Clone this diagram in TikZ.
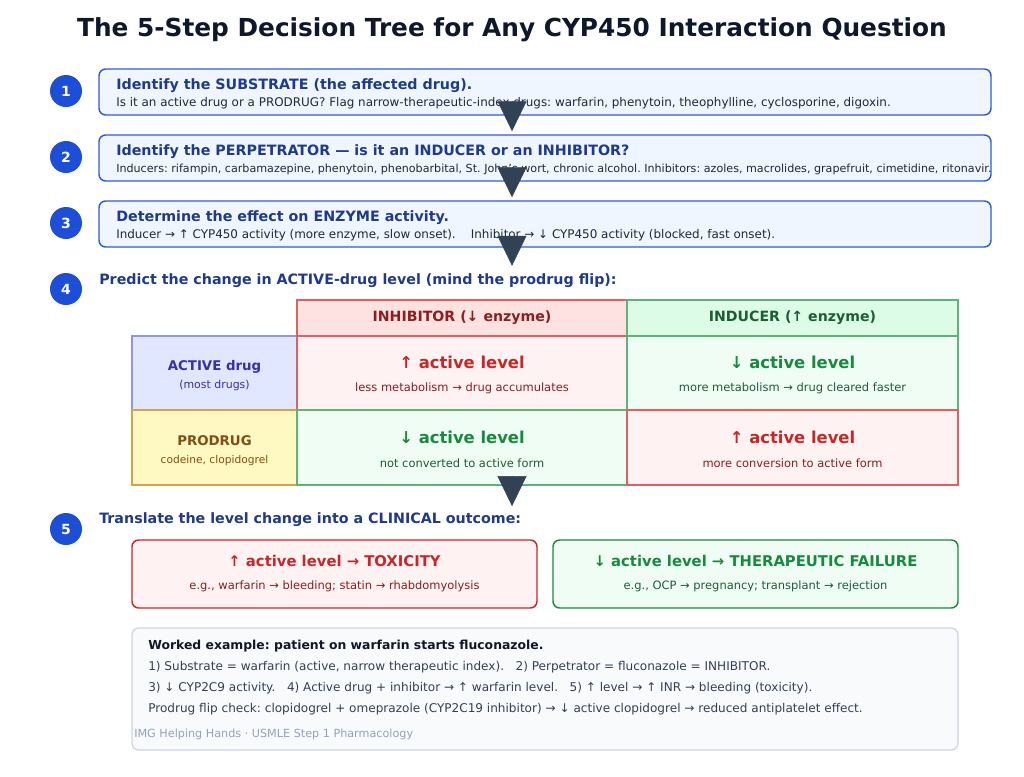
\documentclass[tikz,border=0pt]{standalone}
\usepackage{fontspec}
\setmainfont{DejaVu Sans}
\usepackage{tikz}
\usetikzlibrary{arrows.meta}
\usetikzlibrary{positioning}
\frenchspacing

\definecolor{titleink}{HTML}{0F172A}
\definecolor{numblue}{HTML}{1D4ED8}
\definecolor{stepedge}{HTML}{2F5BD6}
\definecolor{stepfill}{HTML}{EFF6FF}
\definecolor{headblue}{HTML}{1E3A8A}
\definecolor{subink}{HTML}{1F2937}
\definecolor{arrowink}{HTML}{334155}
\definecolor{redhdr}{HTML}{FEE2E2}
\definecolor{redcell}{HTML}{FEF2F2}
\definecolor{rededge}{HTML}{E06060}
\definecolor{redbig}{HTML}{C62828}
\definecolor{redtxt}{HTML}{8B1E1E}
\definecolor{greenhdr}{HTML}{DCFCE7}
\definecolor{greencell}{HTML}{F0FDF4}
\definecolor{greenedge}{HTML}{5CB47A}
\definecolor{greenbig}{HTML}{188A3E}
\definecolor{greentxt}{HTML}{1B5E36}
\definecolor{indfill}{HTML}{E0E7FF}
\definecolor{indedge}{HTML}{8F96E8}
\definecolor{indtxt}{HTML}{3730A3}
\definecolor{yelfill}{HTML}{FEF9C3}
\definecolor{yeledge}{HTML}{D4A24C}
\definecolor{yeltxt}{HTML}{854D0E}
\definecolor{workfill}{HTML}{F8FAFC}
\definecolor{workedge}{HTML}{CBD5E1}
\definecolor{worktxt}{HTML}{334155}
\definecolor{footink}{HTML}{94A3B8}

\begin{document}
\begin{tikzpicture}
  [
    x = 0.75pt, y = -0.75pt,
    num/.style = {circle, fill=numblue, text=white, minimum size=24pt,
                  inner sep=0pt, font=\fontsize{10.5}{12}\selectfont\bfseries},
    stepbox/.style = {draw=stepedge, fill=stepfill, line width=1.1pt,
                  rounded corners=5pt, minimum width=669pt, minimum height=34.5pt},
    head/.style = {anchor=west, inner sep=0pt, text=headblue,
                  font=\fontsize{10.7}{12}\selectfont\bfseries},
    sub/.style = {anchor=west, inner sep=0pt, text=subink,
                  font=\fontsize{8.95}{10}\selectfont},
    cell/.style = {draw, line width=0.8pt, inner sep=0pt},
    hdr/.style = {inner sep=0pt, font=\fontsize{10.6}{12}\selectfont\bfseries},
    big/.style = {inner sep=0pt, font=\fontsize{12.3}{14}\selectfont\bfseries},
    small/.style = {inner sep=0pt, font=\fontsize{8.6}{10}\selectfont},
    outbox/.style = {draw, line width=1.1pt, rounded corners=5pt,
                  minimum width=303.75pt, minimum height=51pt},
    flow/.style = {-{Triangle[length=22.5pt, width=21.75pt]}, draw=arrowink,
                  fill=arrowink},
  ]

  \useasboundingbox (0,0) rectangle (1024,776);

  \node[text=titleink, font=\fontsize{18.6}{22}\selectfont\bfseries] (title) at (512,30)
    {The 5-Step Decision Tree for Any CYP450 Interaction Question};

  \node[num] (n1) at (66,91) {1};
  \node[num] (n2) at (66,157) {2};
  \node[num] (n3) at (66,223) {3};
  \node[num] (n4) at (66,289) {4};
  \node[num] (n5) at (66,529) {5};

  \node[stepbox] (s1) at (545,92) {};
  \node[head] (s1h) at (116,86) {Identify the SUBSTRATE (the affected drug).};
  \node[sub] (s1t) at (116,103) {Is it an active drug or a PRODRUG? Flag narrow-therapeutic-index drugs: warfarin, phenytoin, theophylline, cyclosporine, digoxin.};

  \node[stepbox] (s2) at (545,158) {};
  \node[head] (s2h) at (116,152) {Identify the PERPETRATOR — is it an INDUCER or an INHIBITOR?};
  \node[sub, font=\fontsize{8.35}{10}\selectfont] (s2t) at (116,169) {Inducers: rifampin, carbamazepine, phenytoin, phenobarbital, St. John's wort, chronic alcohol. Inhibitors: azoles, macrolides, grapefruit, cimetidine, ritonavir.};

  \node[stepbox] (s3) at (545,224) {};
  \node[head] (s3h) at (116,218) {Determine the effect on ENZYME activity.};
  \node[sub] (s3t) at (116,235) {Inducer → ↑ CYP450 activity (more enzyme, slow onset).\ \ \ \ Inhibitor → ↓ CYP450 activity (blocked, fast onset).};

  \node[head] (h4) at (99,281) {Predict the change in ACTIVE-drug level (mind the prodrug flip):};

  \node[cell, draw=rededge, fill=redhdr, minimum width=247.5pt, minimum height=27pt] (inh) at (462,318) {};
  \node[hdr, text=redtxt] (inht) at (462,318) {INHIBITOR (↓ enzyme)};
  \node[cell, draw=greenedge, fill=greenhdr, minimum width=248.25pt, minimum height=27pt] (ind) at (792.5,318) {};
  \node[hdr, text=greentxt] (indt) at (792.5,318) {INDUCER (↑ enzyme)};

  \node[cell, draw=indedge, fill=indfill, minimum width=123.75pt, minimum height=55.5pt] (act) at (214.5,373) {};
  \node[hdr, text=indtxt, font=\fontsize{10}{12}\selectfont\bfseries] (acta) at (214.5,367) {ACTIVE drug};
  \node[small, text=indtxt, font=\fontsize{8.2}{9}\selectfont] (actb) at (214.5,385) {(most drugs)};
  \node[cell, draw=yeledge, fill=yelfill, minimum width=123.75pt, minimum height=56.25pt] (pro) at (214.5,447.5) {};
  \node[hdr, text=yeltxt, font=\fontsize{10}{12}\selectfont\bfseries] (proa) at (214.5,441) {PRODRUG};
  \node[small, text=yeltxt, font=\fontsize{8}{9}\selectfont] (prob) at (214.5,461) {codeine, clopidogrel};

  \node[cell, draw=rededge, fill=redcell, minimum width=247.5pt, minimum height=55.5pt] (c11) at (462,373) {};
  \node[big, text=redbig] (c11a) at (462,362) {↑ active level};
  \node[small, text=redtxt] (c11b) at (462,388) {less metabolism → drug accumulates};
  \node[cell, draw=greenedge, fill=greencell, minimum width=248.25pt, minimum height=55.5pt] (c12) at (792.5,373) {};
  \node[big, text=greenbig] (c12a) at (792.5,362) {↓ active level};
  \node[small, text=greentxt] (c12b) at (792.5,388) {more metabolism → drug cleared faster};
  \node[cell, draw=greenedge, fill=greencell, minimum width=247.5pt, minimum height=56.25pt] (c21) at (462,447.5) {};
  \node[big, text=greenbig] (c21a) at (462,437) {↓ active level};
  \node[small, text=greentxt] (c21b) at (462,463) {not converted to active form};
  \node[cell, draw=rededge, fill=redcell, minimum width=248.25pt, minimum height=56.25pt] (c22) at (792.5,447.5) {};
  \node[big, text=redbig] (c22a) at (792.5,437) {↑ active level};
  \node[small, text=redtxt] (c22b) at (792.5,463) {more conversion to active form};

  \node[head] (h5) at (99,520) {Translate the level change into a CLINICAL outcome:};

  \node[outbox, draw=redbig, fill=redcell] (tox) at (334.5,574) {};
  \node[hdr, text=redbig, font=\fontsize{11.1}{13}\selectfont\bfseries] (toxa) at (334.5,561) {↑ active level → TOXICITY};
  \node[small, text=redtxt] (toxb) at (334.5,586) {e.g., warfarin → bleeding; statin → rhabdomyolysis};
  \node[outbox, draw=greenbig, fill=greencell] (fail) at (755.5,574) {};
  \node[hdr, text=greenbig, font=\fontsize{11.1}{13}\selectfont\bfseries] (faila) at (755.5,561) {↓ active level → THERAPEUTIC FAILURE};
  \node[small, text=greentxt] (failb) at (755.5,586) {e.g., OCP → pregnancy; transplant → rejection};

  \node[draw=workedge, fill=workfill, line width=0.9pt, rounded corners=5pt,
        minimum width=619.5pt, minimum height=91.5pt] (work) at (545,689) {};
  \node[head, text=titleink, font=\fontsize{9.3}{11}\selectfont\bfseries] (w0) at (148,646) {Worked example: patient on warfarin starts fluconazole.};
  \node[sub, text=worktxt, font=\fontsize{9.05}{10}\selectfont] (w1) at (148,667) {1) Substrate = warfarin (active, narrow therapeutic index).\ \ \ 2) Perpetrator = fluconazole = INHIBITOR.};
  \node[sub, text=worktxt, font=\fontsize{9.05}{10}\selectfont] (w2) at (148,688) {3) ↓ CYP2C9 activity.\ \ \ 4) Active drug + inhibitor → ↑ warfarin level.\ \ \ 5) ↑ level → ↑ INR → bleeding (toxicity).};
  \node[sub, text=worktxt, font=\fontsize{9.05}{10}\selectfont] (w3) at (148,709) {Prodrug flip check: clopidogrel + omeprazole (CYP2C19 inhibitor) → ↓ active clopidogrel → reduced antiplatelet effect.};
  \node[sub, text=footink, font=\fontsize{8.4}{10}\selectfont] (foot) at (134,734) {IMG Helping Hands · USMLE Step 1 Pharmacology};

  \draw[flow, shorten >=2.25pt] (title |- s1.south) -- (title |- s2.north);
  \draw[flow, shorten >=2.25pt] (title |- s2.south) -- (title |- s3.north);
  \draw[flow, shorten >=6pt] (title |- s3.south) -- (title |- h4.north);
  \draw[flow, shorten >=5pt] (title |- c21.south) -- (title |- h5.north);

\end{tikzpicture}
\end{document}
